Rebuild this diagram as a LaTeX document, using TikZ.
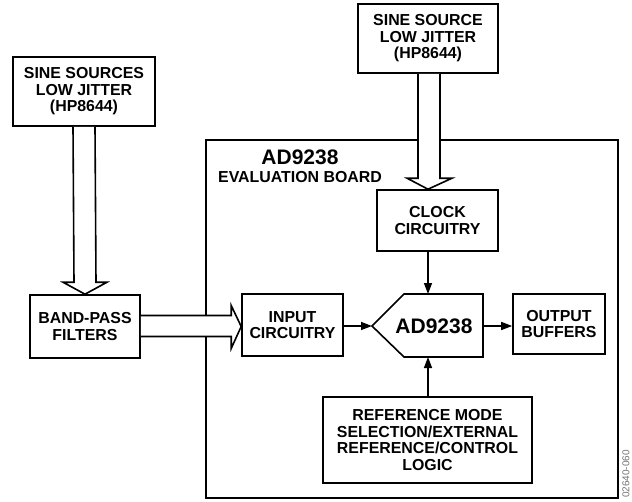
\documentclass[tikz,border=0pt]{standalone}
\usepackage{fontspec}
\setmainfont{Liberation Sans}
\usetikzlibrary{arrows.meta,calc}
\tikzset{
  blk/.style={draw,line width=1.6pt,rectangle,inner sep=0pt,align=center,
    font=\bfseries\fontsize{15.9}{16.5}\selectfont},
  hollow/.style={draw,line width=1.6pt,fill=white,line join=miter},
  sig/.style={line width=1.4pt,-{Triangle[length=11pt,width=8pt]}},
  big/.style={font=\bfseries\fontsize{21}{22}\selectfont},
  lbl/.style={font=\bfseries\fontsize{15.9}{16.5}\selectfont}
}
\begin{document}
\begin{tikzpicture}[x=1pt,y=-1pt]
\useasboundingbox (0,0) rectangle (632,501);
% evaluation board
\draw[line width=1.6pt] (206,140) rectangle (618,498);
\node[big,anchor=center] (evtitle) at (300,157.5) {AD9238};
\node[lbl,anchor=center] (evsub) at (300,177) {EVALUATION BOARD};
% blocks
\node[blk,minimum width=142pt,minimum height=69pt] (s1) at (84,91.5) {SINE SOURCES\\LOW JITTER\\(HP8644)};
\node[blk,minimum width=140pt,minimum height=69pt] (s2) at (428,38.5) {SINE SOURCE\\LOW JITTER\\(HP8644)};
\node[blk,minimum width=110pt,minimum height=63pt] (bp) at (85,326.5) {BAND-PASS\\FILTERS};
\node[blk,minimum width=121pt,minimum height=61pt] (clk) at (437.5,220.5) {CLOCK\\CIRCUITRY};
\node[blk,minimum width=101pt,minimum height=62pt] (inp) at (292.5,325) {INPUT\\CIRCUITRY};
\node[blk,minimum width=92pt,minimum height=60pt] (out) at (559,324) {OUTPUT\\BUFFERS};
\node[blk,minimum width=209pt,minimum height=86pt] (ref) at (427.5,440) {REFERENCE MODE\\SELECTION/EXTERNAL\\REFERENCE/CONTROL\\LOGIC};
% ADC pentagon
\coordinate (adcL) at (372,326);
\coordinate (adcT) at (428,294);
\coordinate (adcB) at (428,357);
\coordinate (adcR) at (483,326);
\draw[line width=1.6pt,line join=miter] (adcL) -- (404,294) -- (483,294) -- (483,357) -- (404,357) -- cycle;
\node[big] (adc) at (434,326) {AD9238};
% hollow arrows
\draw[hollow] ($(s1.south)+(-11,0)$) -- ($(bp.north)+(-11,-12)$) -- ($(bp.north)+(-22,-12)$)
  -- (bp.north) -- ($(bp.north)+(22,-12)$) -- ($(bp.north)+(11,-12)$) -- ($(s1.south)+(11,0)$);
\draw[hollow] ($(s2.south)+(-10,0)$) -- ($(s2.south |- clk.north)+(-10,-11)$) -- ($(s2.south |- clk.north)+(-21,-11)$)
  -- (s2.south |- clk.north) -- ($(s2.south |- clk.north)+(24,-11)$) -- ($(s2.south |- clk.north)+(12,-11)$) -- ($(s2.south)+(12,0)$);
\draw[hollow] ($(bp.east)+(0,-11)$) -- ($(inp.west |- bp.east)+(-10,-11)$) -- ($(inp.west |- bp.east)+(-10,-21)$)
  -- ($(inp.west |- bp.east)+(0,0)$) -- ($(inp.west |- bp.east)+(-10,22)$) -- ($(inp.west |- bp.east)+(-10,10)$) -- ($(bp.east)+(0,10)$);
% signal arrows
\draw[sig] (clk.south -| adcT) -- (adcT);
\draw[sig] (ref.north -| adcB) -- (adcB);
\draw[sig] (inp.east |- adcL) -- (adcL);
\draw[sig] (adcR) -- (out.west |- adcR);
% figure code
\node[rotate=90,font=\fontsize{10}{11}\selectfont,text=black!55] (code) at (626,474) {02640-060};
\end{tikzpicture}
\end{document}
